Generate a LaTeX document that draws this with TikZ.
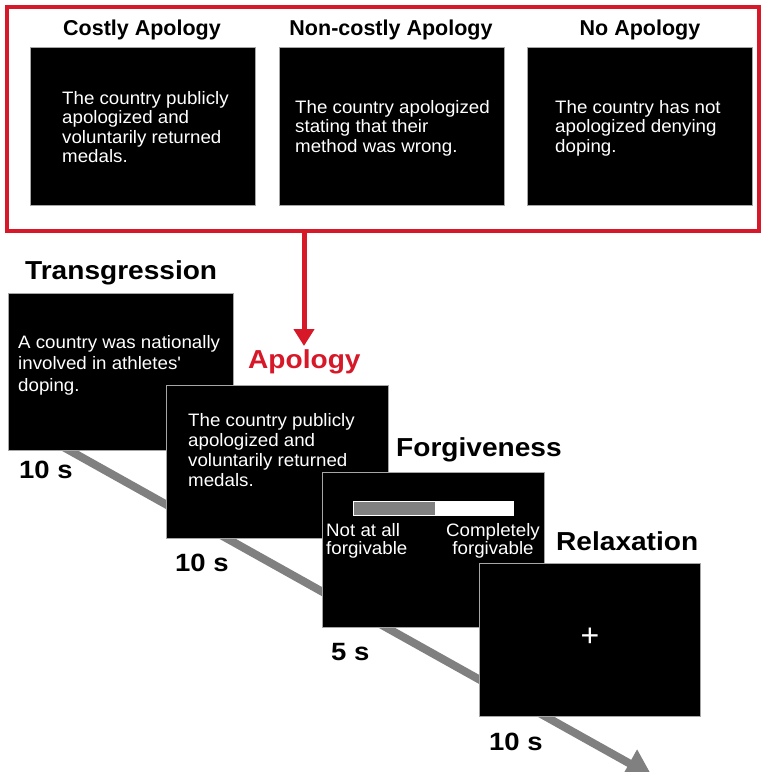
\documentclass[tikz,border=0pt]{standalone}
\usepackage{fontspec}
\setmainfont{Liberation Sans}
\newfontfamily\boxfont[FakeStretch=1.04]{Liberation Sans}
\newfontfamily\bigfont[FakeStretch=1.08]{Liberation Sans}
\newfontfamily\durfont[FakeStretch=1.1]{Liberation Sans}
\usetikzlibrary{arrows.meta}
\definecolor{apred}{RGB}{214,24,40}
\definecolor{tlgray}{RGB}{128,128,128}
\tikzset{
  screen/.style={draw=gray!70, line width=1pt, fill=black, anchor=north west, inner sep=0pt},
  scrtext/.style={text=white, font=\boxfont\fontsize{18}{19.5}\selectfont, align=left, anchor=north west, inner sep=0pt},
  ctitle/.style={font=\bfseries\fontsize{21.5}{24}\selectfont, anchor=center, inner sep=0pt},
  phase/.style={font=\bigfont\bfseries\fontsize{26}{28}\selectfont, anchor=west, inner sep=0pt},
  dur/.style={font=\durfont\bfseries\fontsize{25}{27}\selectfont, anchor=west, inner sep=0pt},
}
\begin{document}
\begin{tikzpicture}[x=1pt,y=-1pt]
\useasboundingbox (0,0) rectangle (763,772);
\clip (0,0) rectangle (763,772);
\fill[white] (0,0) rectangle (763,772);

% red frame
\node[draw=apred, line width=3.5pt, anchor=north west, minimum width=752pt, minimum height=224pt, inner sep=0pt] (frame) at (5,5) {};

% condition screens
\node[screen, minimum width=225pt, minimum height=158pt] (c1) at (30,47) {};
\node[screen, minimum width=225pt, minimum height=158pt] (c2) at (279,47) {};
\node[screen, minimum width=225pt, minimum height=158pt] (c3) at (527,47) {};
\node[ctitle] (t1) at (142,30) {Costly Apology};
\node[ctitle] (t2) at (391,30) {Non-costly Apology};
\node[ctitle] (t3) at (640,30) {No Apology};
\node[scrtext] (x1) at (62,91) {The country publicly\\apologized and\\voluntarily returned\\medals.};
\node[scrtext] (x2) at (295,100) {The country apologized\\stating that their\\method was wrong.};
\node[scrtext] (x3) at (555,100) {The country has not\\apologized denying\\doping.};

% red arrow
\coordinate (rtip) at (304,346);
\draw[apred, line width=5pt, -{Triangle[length=17pt,width=20pt]}] (frame.south -| rtip) -- (rtip);

% timeline arrow
\coordinate (tl0) at (40,434);
\coordinate (tl1) at (652,776);
\draw[tlgray, line width=8pt, -{Triangle[length=26pt,width=30pt]}] (tl0) -- (tl1);

% transgression
\node[phase] (pT) at (25,273) {Transgression};
\node[screen, minimum width=225pt, minimum height=157pt] (sT) at (8,293) {};
\node[scrtext, font=\boxfont\fontsize{18}{21.5}\selectfont] (xT) at (18,335) {A country was nationally\\involved in athletes'\\doping.};
\node[dur] (dT) at (19,470) {10 s};

% apology
\node[phase, text=apred] (pA) at (248,362) {Apology};
\node[screen, minimum width=222pt, minimum height=153pt] (sA) at (166,385) {};
\node[scrtext, font=\boxfont\fontsize{18}{20}\selectfont] (xA) at (188,413) {The country publicly\\apologized and\\voluntarily returned\\medals.};
\node[dur] (dA) at (175,563) {10 s};

% forgiveness
\node[phase] (pF) at (396,450) {Forgiveness};
\node[screen, minimum width=222pt, minimum height=155pt] (sF) at (322,472) {};
\fill[white] (353,501) rectangle (514,516);
\fill[tlgray] (354,502) rectangle (435,515);
\node[scrtext, font=\boxfont\fontsize{18}{18}\selectfont] (xF1) at (326,523) {Not at all\\forgivable};
\node[scrtext, font=\boxfont\fontsize{18}{18}\selectfont, align=center, anchor=north] (xF2) at (493,523) {Completely\\forgivable};
\node[dur] (dF) at (331,652) {5 s};

% relaxation
\node[phase] (pR) at (556,541) {Relaxation};
\node[screen, minimum width=221pt, minimum height=153pt] (sR) at (479,563) {};
\node[text=white, font=\fontsize{32}{34}\selectfont, inner sep=0pt] (plus) at (590,637) {+};
\node[dur] (dR) at (489,742) {10 s};
\end{tikzpicture}
\end{document}
